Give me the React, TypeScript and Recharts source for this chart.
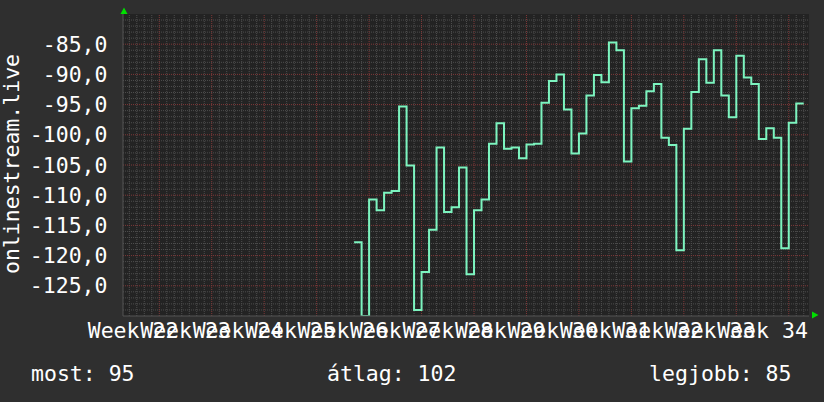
import React from 'react';
import { LineChart, Line, XAxis, YAxis, CartesianGrid, ReferenceLine } from 'recharts';

// ---- data ----
const firstDay = 31;
const dailyValues = [
  -117.8, -130.0, -110.7, -112.5, -109.6, -109.3, -95.3, -105.1, -129.0, -122.7,
  -115.7, -102.1, -112.8, -112.0, -105.4, -123.1, -112.5, -110.7, -101.5, -98.1,
  -102.3, -102.1, -103.9, -101.6, -101.5, -94.7, -91.1, -90.0, -95.8, -103.1,
  -99.8, -93.5, -90.1, -91.3, -84.7, -86.0, -104.4, -95.6, -95.2, -92.8,
  -91.6, -100.5, -101.7, -119.1, -99.0, -92.9, -87.5, -91.4, -86.0, -93.5,
  -97.1, -86.9, -90.5, -91.6, -100.7, -98.9, -100.5, -118.8, -98.0, -94.8,
];
const weekNumbers = [22, 23, 24, 25, 26, 27, 28, 29, 30, 31, 32, 33, 34];
const yTicks = [-125, -120, -115, -110, -105, -100, -95, -90, -85];
const yDomain: [number, number] = [-130, -80];
const xDomain: [number, number] = [0.16, 91.7];
const firstWeekLine = 5;
const seriesName = 'onlinestream.live';
const legendLabels = ['most', 'átlag', 'legjobb'];

// ---- derived ----
const chartData = dailyValues.map((v, i) => ({ day: firstDay + i, v }));
chartData.push({ day: firstDay + dailyValues.length, v: dailyValues[dailyValues.length - 1] });
const weekTicks = weekNumbers.map((_, i) => firstWeekLine - 3.5 + 7 * i);
const dayLines: number[] = [];
for (let d = Math.ceil(xDomain[0]); d <= Math.floor(xDomain[1]); d++) dayLines.push(d);
const unitLines: number[] = [];
for (let u = yDomain[0] + 1; u < yDomain[1]; u++) unitLines.push(u);
const isMajorDay = (d: number) => (d - firstWeekLine) % 7 === 0;
const isMajorUnit = (u: number) => u % 5 === 0;

const current = -dailyValues[dailyValues.length - 1];
const avg = -dailyValues.reduce((a, b) => a + b, 0) / dailyValues.length;
const best = -Math.max(...dailyValues);

const FONT = '"DejaVu Sans Mono", monospace';
const FS = 21.5;
const TEXT = '#ffffff';
const MINOR = '#4e4e4e';
const MAJOR = '#803838';
const LINE = '#7cf4bf';

function XTick(props: any) {
  const { x, payload } = props;
  const idx = Math.round((payload.value - weekTicks[0]) / 7);
  return (
    <text x={x} y={338} textAnchor="middle" fill={TEXT} fontFamily={FONT} fontSize={FS}>
      {'Week ' + weekNumbers[idx]}
    </text>
  );
}

function YTick(props: any) {
  const { y, payload } = props;
  return (
    <text x={107.5} y={y + 7.5} textAnchor="end" fill={TEXT} fontFamily={FONT} fontSize={FS}>
      {payload.value.toFixed(1).replace('.', ',')}
    </text>
  );
}

export default function App() {
  return (
    <div style={{ position: 'absolute', left: 0, top: 0, width: 824, height: 402, background: '#2f2f2f' }}>
      <LineChart width={824} height={402} data={chartData} margin={{ top: 14, right: 15, bottom: 0, left: 0 }}>
        <CartesianGrid horizontal={false} vertical={false} fill="#232323" />
        <XAxis
          dataKey="day"
          type="number"
          domain={xDomain}
          ticks={weekTicks}
          interval={0}
          height={86}
          tickLine={false}
          axisLine={{ stroke: '#555555' }}
          tick={<XTick />}
          allowDataOverflow
        />
        <YAxis
          type="number"
          domain={yDomain}
          ticks={yTicks}
          interval={0}
          width={123}
          tickLine={false}
          axisLine={{ stroke: '#555555' }}
          tick={<YTick />}
          allowDataOverflow
        />
        {dayLines.filter((d) => !isMajorDay(d)).map((d) => (
          <ReferenceLine key={'dx' + d} x={d} stroke={MINOR} strokeDasharray="1 1" strokeWidth={1} />
        ))}
        {unitLines.filter((u) => !isMajorUnit(u)).map((u) => (
          <ReferenceLine key={'uy' + u} y={u} stroke={MINOR} strokeDasharray="1 1" strokeWidth={1} />
        ))}
        {dayLines.filter(isMajorDay).map((d) => (
          <ReferenceLine key={'mx' + d} x={d} stroke={MAJOR} strokeDasharray="1 1" strokeWidth={1} />
        ))}
        {unitLines.filter(isMajorUnit).map((u) => (
          <ReferenceLine key={'my' + u} y={u} stroke={MAJOR} strokeDasharray="1 1" strokeWidth={1} />
        ))}
        <Line
          type="stepAfter"
          dataKey="v"
          stroke={LINE}
          strokeWidth={2}
          dot={false}
          activeDot={false}
          isAnimationActive={false}
          connectNulls={false}
        />
      </LineChart>
      <svg width={824} height={402} style={{ position: 'absolute', left: 0, top: 0, pointerEvents: 'none' }}>
        <text
          x={18.5}
          y={164}
          transform="rotate(-90 18.5 164)"
          textAnchor="middle"
          fill={TEXT}
          fontFamily={FONT}
          fontSize={FS}
        >
          {seriesName}
        </text>
        <polygon points="120.5,14 127.5,14 124,7.5" fill="#00e000" />
        <polygon points="812,311.5 812,318.5 818.5,315" fill="#00e000" />
        <text x={31} y={381} fill={TEXT} fontFamily={FONT} fontSize={FS}>
          {legendLabels[0] + ': ' + Math.round(current)}
        </text>
        <text x={327} y={381} fill={TEXT} fontFamily={FONT} fontSize={FS}>
          {legendLabels[1] + ': ' + Math.round(avg)}
        </text>
        <text x={791.5} y={381} textAnchor="end" fill={TEXT} fontFamily={FONT} fontSize={FS}>
          {legendLabels[2] + ': ' + Math.round(best)}
        </text>
      </svg>
    </div>
  );
}
